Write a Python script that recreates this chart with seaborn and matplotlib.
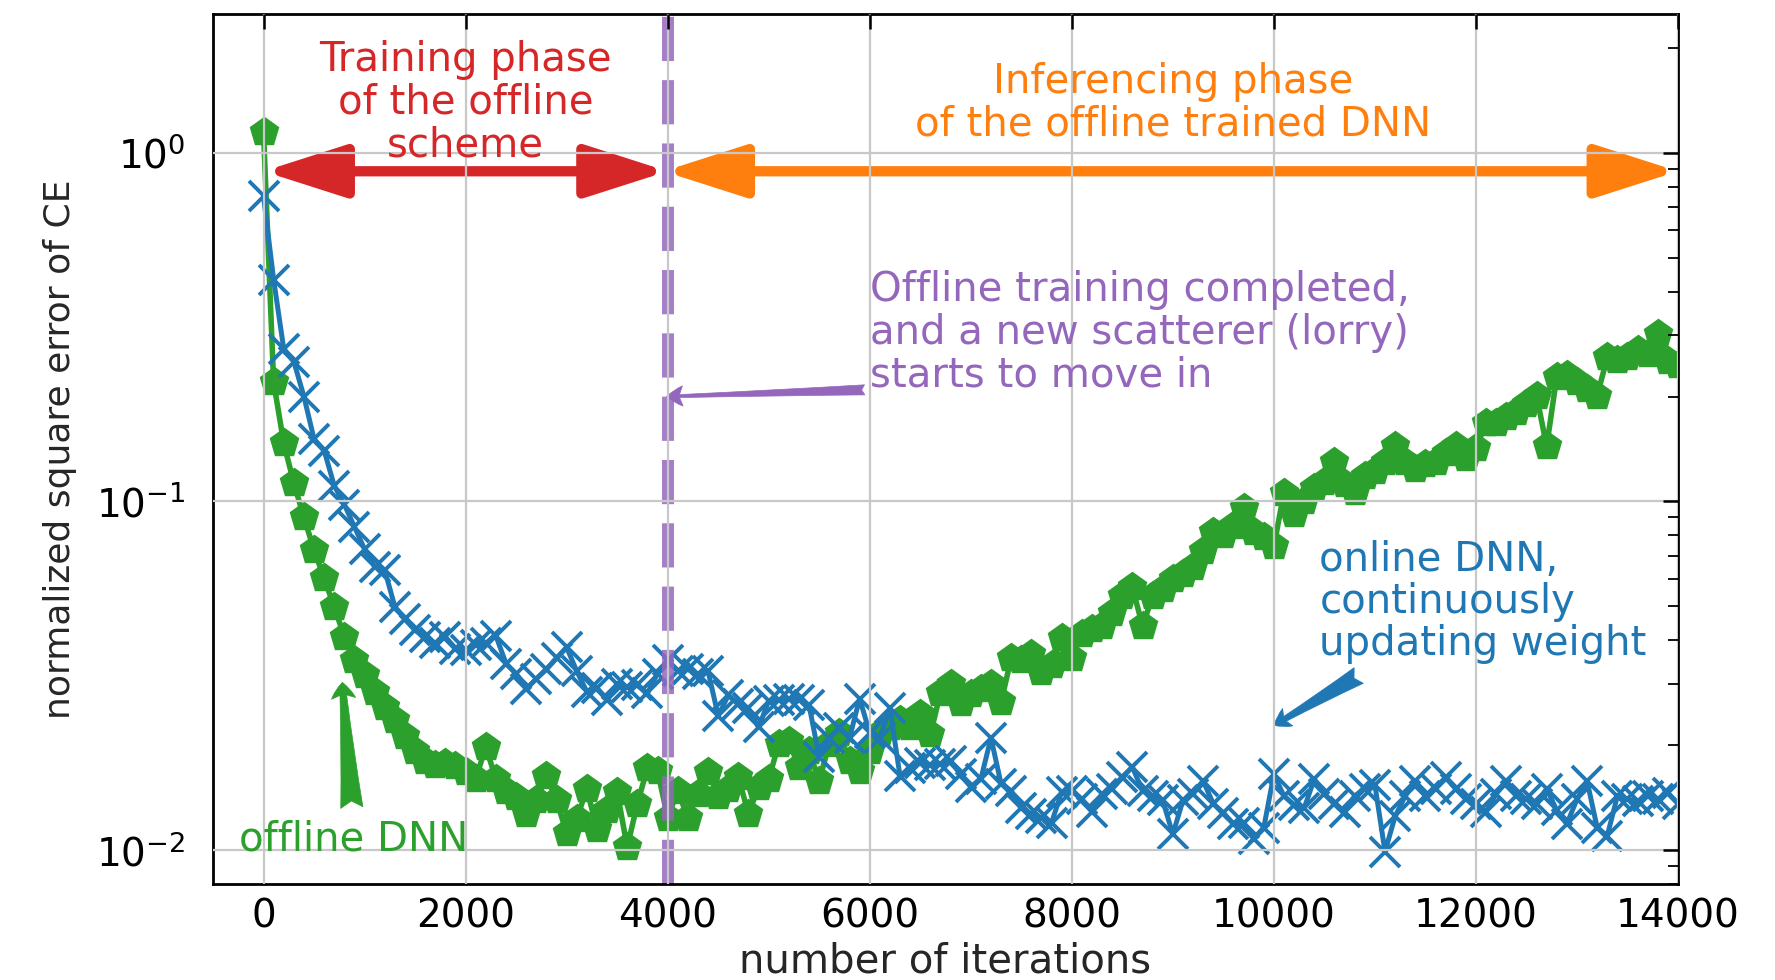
import numpy as np
import pandas as pd
import matplotlib
matplotlib.use("Agg")
import matplotlib.pyplot as plt
import seaborn as sns
from matplotlib.ticker import LogLocator, NullFormatter

# Iterations at which the channel-estimation error was evaluated
iterations = np.arange(0, 14001, 100)

# Normalized square error of CE, offline-trained DNN
offline_dnn = [
    1.15, 0.22, 0.147, 0.113, 0.090, 0.0726, 0.0603, 0.0498, 0.0410, 0.0352,
    0.0318, 0.0285, 0.0258, 0.0236, 0.0212, 0.0192, 0.0180, 0.0176, 0.0178, 0.0174,
    0.0168, 0.0160, 0.0198, 0.0160, 0.0148, 0.0142, 0.0127, 0.0139, 0.0163, 0.0139,
    0.0112, 0.0123, 0.0150, 0.0115, 0.0130, 0.0147, 0.0102, 0.0136, 0.0172, 0.0169,
    0.0124, 0.0148, 0.0124, 0.0145, 0.0168, 0.0143, 0.0150, 0.0162, 0.0127, 0.0152,
    0.0160, 0.0202, 0.0205, 0.0173, 0.0192, 0.0158, 0.0202, 0.0217, 0.0180, 0.0169,
    0.0192, 0.0217, 0.0226, 0.0236, 0.0226, 0.0246, 0.0215, 0.0282, 0.0300, 0.0265,
    0.0280, 0.0290, 0.0300, 0.0266, 0.0355, 0.0350, 0.0365, 0.0325, 0.0340, 0.0405,
    0.0355, 0.0418, 0.0430, 0.0440, 0.0480, 0.0534, 0.0567, 0.0440, 0.0534, 0.0560,
    0.0600, 0.0620, 0.0650, 0.0720, 0.0820, 0.0800, 0.0850, 0.0960, 0.0820, 0.0790,
    0.0745, 0.1060, 0.0920, 0.1000, 0.1090, 0.1140, 0.1300, 0.1120, 0.1065, 0.1180,
    0.1220, 0.1300, 0.1440, 0.1300, 0.1240, 0.1280, 0.1300, 0.1380, 0.1440, 0.1330,
    0.1420, 0.1680, 0.1680, 0.1750, 0.1810, 0.1900, 0.2010, 0.1440, 0.2280, 0.2300,
    0.2200, 0.2100, 0.2010, 0.2590, 0.2550, 0.2600, 0.2720, 0.2650, 0.3020, 0.2530,
    0.2470,
]

# Normalized square error of CE, online DNN with continuously updated weights
online_dnn = [
    0.750, 0.433, 0.274, 0.252, 0.200, 0.151, 0.140, 0.111, 0.098, 0.0846,
    0.0730, 0.0650, 0.0635, 0.0499, 0.0460, 0.0427, 0.0409, 0.0392, 0.0409, 0.0378,
    0.0375, 0.0388, 0.0392, 0.0412, 0.0343, 0.0321, 0.0290, 0.0310, 0.0330, 0.0355,
    0.0382, 0.0326, 0.0285, 0.0292, 0.0270, 0.0300, 0.0294, 0.0297, 0.0282, 0.0321,
    0.0350, 0.0326, 0.0330, 0.0320, 0.0326, 0.0243, 0.0278, 0.0263, 0.0255, 0.0225,
    0.0268, 0.0270, 0.0272, 0.0270, 0.0260, 0.0185, 0.0210, 0.0224, 0.0210, 0.0272,
    0.0217, 0.0210, 0.0255, 0.0163, 0.0172, 0.0178, 0.0175, 0.0177, 0.0180, 0.0165,
    0.0152, 0.0160, 0.0210, 0.0155, 0.0148, 0.0132, 0.0127, 0.0124, 0.0120, 0.0147,
    0.0148, 0.0140, 0.0129, 0.0145, 0.0150, 0.0162, 0.0173, 0.0148, 0.0143, 0.0139,
    0.0111, 0.0139, 0.0145, 0.0158, 0.0136, 0.0128, 0.0119, 0.0120, 0.0108, 0.0116,
    0.0165, 0.0143, 0.0135, 0.0132, 0.0160, 0.0145, 0.0136, 0.0129, 0.0143, 0.0150,
    0.0154, 0.0099, 0.0125, 0.0143, 0.0158, 0.0143, 0.0150, 0.0162, 0.0150, 0.0140,
    0.0136, 0.0129, 0.0145, 0.0158, 0.0143, 0.0140, 0.0136, 0.0150, 0.0130, 0.0119,
    0.0140, 0.0158, 0.0116, 0.0110, 0.0143, 0.0140, 0.0138, 0.0143, 0.0140, 0.0146,
    0.0136,
]

x_ticks = [0, 2000, 4000, 6000, 8000, 10000, 12000, 14000]
training_end = 4000

GREEN = "#2ca02c"
BLUE = "#1f77b4"
RED = "#d62728"
ORANGE = "#ff7f0e"
PURPLE = "#9467bd"

sns.set_theme(style="white")
plt.rcParams["font.family"] = ["DejaVu Sans"]
plt.rcParams["mathtext.fontset"] = "dejavusans"

fig = plt.figure(figsize=(17.75, 9.8), dpi=100)
ax = fig.add_axes([213 / 1775, 96 / 980, 1465 / 1775, 870 / 980])

df = pd.DataFrame({"iteration": iterations,
                   "offline": offline_dnn,
                   "online": online_dnn})

sns.lineplot(data=df, x="iteration", y="offline", ax=ax, color=GREEN,
             marker="p", markersize=21, markeredgewidth=1,
             markeredgecolor=GREEN, markerfacecolor=GREEN,
             linewidth=4, zorder=2)
sns.lineplot(data=df, x="iteration", y="online", ax=ax, color=BLUE,
             marker="x", markersize=21, markeredgewidth=2.8,
             markeredgecolor=BLUE, linewidth=3.6, zorder=2.1)

ax.set_yscale("log")
ax.set_xlim(-500, 14000)
ax.set_ylim(0.008, 2.5)
ax.set_xticks(x_ticks)
ax.set_xticklabels([str(t) for t in x_ticks])
ax.yaxis.set_major_locator(LogLocator(base=10))
ax.yaxis.set_minor_locator(LogLocator(base=10, subs=np.arange(2, 10)))
ax.yaxis.set_minor_formatter(NullFormatter())

# grid drawn above the curves, ticks pointing inward on every side
ax.set_axisbelow(False)
ax.grid(True, which="major", color="#c8c8c8", linewidth=1.6)
ax.tick_params(which="both", direction="in", top=True, right=True,
               color="black", labelcolor="black")
ax.tick_params(which="major", length=11, width=1.8, labelsize=28)
ax.tick_params(which="minor", length=7, width=1.3)
ax.tick_params(axis="x", which="major", pad=10)
ax.tick_params(axis="y", which="major", pad=20)
for sp in ax.spines.values():
    sp.set_color("black")
    sp.set_linewidth(2)

ax.set_xlabel("number of iterations", fontsize=29)
ax.xaxis.set_label_coords(0.5, -0.066)
ax.set_ylabel("normalized square error of CE", fontsize=26)
ax.yaxis.label.set_va("center")
ax.yaxis.set_label_coords(-0.1044, 0.5)

# end of offline training
ax.axvline(training_end, color=PURPLE, linewidth=8.6, linestyle="--",
           alpha=0.85, zorder=2.2)

# phase spans
def span_arrow(x0, x1, y, color):
    ax.annotate("", xy=(x1, y), xytext=(x0, y),
                arrowprops=dict(arrowstyle="<|-|>,head_length=5.0,head_width=1.6",
                                mutation_scale=10, lw=7.4, color=color,
                                shrinkA=0, shrinkB=0),
                zorder=2.2)

span_arrow(0, 4000, 0.885, RED)
span_arrow(3960, 14000, 0.885, ORANGE)

# pointers from the labels to the curves
def pointer(tail, tip, color, tail_width=0.45, head_width=0.5):
    style = "fancy,head_length=0.4,head_width={},tail_width={}".format(head_width, tail_width)
    ax.annotate("", xy=tip, xytext=tail,
                arrowprops=dict(arrowstyle=style,
                                mutation_scale=29, fc=color, ec=color, lw=0.5,
                                shrinkA=0, shrinkB=0),
                zorder=2.2)

pointer((874, 0.01325), (780, 0.0303), GREEN, tail_width=0.55, head_width=0.6)
pointer((10840, 0.0317), (10000, 0.0228), BLUE)
pointer((5950, 0.209), (3990, 0.200), PURPLE, tail_width=0.25, head_width=0.5)

text_kw = dict(fontsize=29, linespacing=1.08)
ax.text(2000, 1.39, "Training phase\nof the offline\nscheme", color=RED,
        ha="center", va="center", multialignment="center", **text_kw)
ax.text(9000, 1.39, "Inferencing phase\nof the offline trained DNN", color=ORANGE,
        ha="center", va="center", multialignment="center", **text_kw)
ax.text(6000, 0.305, "Offline training completed,\nand a new scatterer (lorry)\nstarts to move in",
        color=PURPLE, ha="left", va="center", multialignment="left", **text_kw)
ax.text(10450, 0.0515, "online DNN,\ncontinuously\nupdating weight", color=BLUE,
        ha="left", va="center", multialignment="left", **text_kw)
ax.text(893, 0.0107, "offline DNN", color=GREEN, ha="center", va="center", **text_kw)

fig.savefig("out.png", dpi=100)
